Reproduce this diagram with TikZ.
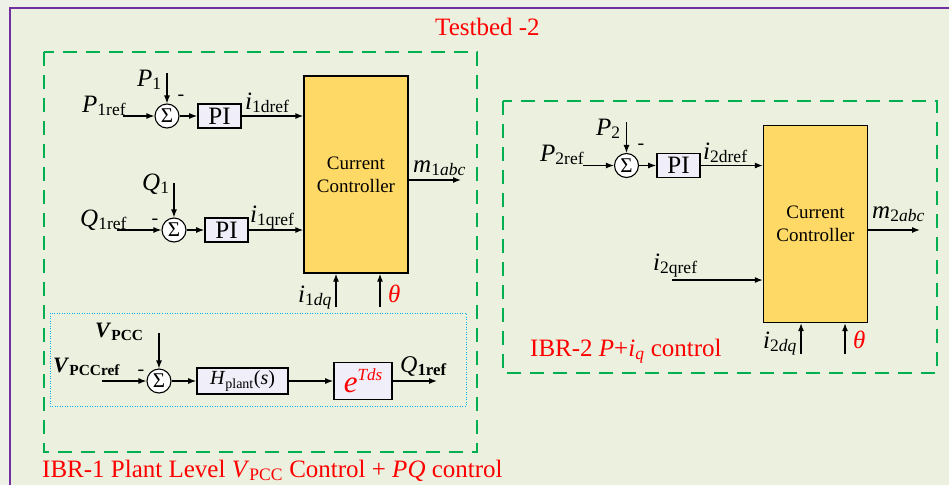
\documentclass[tikz,border=0pt]{standalone}
\usepackage{fontspec}
\setmainfont{Liberation Serif}
\usetikzlibrary{arrows.meta}

\definecolor{outfill}{HTML}{EEF1E7}
\definecolor{bgfill}{HTML}{EBF1DE}
\definecolor{framepurple}{HTML}{7030A0}
\definecolor{grpgreen}{HTML}{00B050}
\definecolor{dotblue}{HTML}{00B0F0}
\definecolor{ccfill}{HTML}{FFD966}
\definecolor{pifill}{HTML}{F0EEF8}

\newcommand{\sig}[2]{\textit{#1}\textsubscript{#2}}

\begin{document}
\begin{tikzpicture}[x=1pt, y=-1pt,
    lbl/.style={inner sep=0pt, anchor=base west, font=\fontsize{25}{28}\selectfont},
    boldlbl/.style={lbl, font=\fontsize{22}{26}\selectfont\bfseries},
    pibox/.style={draw, line width=1.6pt, fill=pifill, inner sep=0pt,
        minimum width=43pt, minimum height=24pt, font=\fontsize{25}{28}\selectfont},
    ccbox/.style={draw, line width=1.3pt, fill=ccfill, inner sep=0pt, align=center,
        minimum width=104pt, minimum height=197pt, font=\fontsize{19}{23}\selectfont},
    sumc/.style={draw, circle, line width=1.1pt, fill=white, inner sep=0pt,
        minimum size=24pt, font=\fontsize{21}{21}\selectfont},
    minus/.style={inner sep=0pt, font=\fontsize{20}{20}\selectfont},
    arr/.style={-{Latex[length=8pt,width=6pt]}, line width=1.3pt},
    grp/.style={draw=grpgreen, line width=2.2pt, dash pattern=on 14pt off 9pt}
]

\useasboundingbox (0,0) rectangle (949,485);
\fill[outfill] (0,0) rectangle (949,485);
\fill[bgfill] (10,8) rectangle (949,485);
\draw[framepurple, line width=2pt] (10,485) -- (10,8) -- (949,8);

\node[lbl, text=red] (title) at (435,35) {Testbed -2};

% IBR-1
\draw[grp] (44,52) rectangle (477,452);
\draw[dotblue, line width=0.9pt, dash pattern=on 1pt off 1.5pt] (50,313) rectangle (466,406);

\node[ccbox] (cc1) at (356,174.5) {Current\\Controller};

\node[sumc] (s1) at (167,116) {Σ};
\node[pibox] (pi1) at (219.5,116) {PI};
\node[sumc] (s2) at (174,230) {Σ};
\node[pibox] (pi2) at (226.5,230) {PI};

\node[lbl] (p1ref) at (82,112) {\sig{P}{1ref}};
\node[lbl] (p1) at (137,86) {\sig{P}{1}};
\node[minus] (m1) at (181,98) {-};
\node[lbl] (i1dref) at (245,109) {\sig{i}{1dref}};
\node[lbl] (q1) at (142,190) {\sig{Q}{1}};
\node[lbl] (q1ref) at (80,226) {\sig{Q}{1ref}};
\node[minus] (m2) at (155,222) {-};
\node[lbl] (i1qref) at (250,222) {\sig{i}{1qref}};
\node[lbl] (m1abc) at (413,172) {\textit{m}\textsubscript{1\textit{abc}}};
\node[lbl] (i1dq) at (298,302) {\textit{i}\textsubscript{1\textit{dq}}};
\node[lbl, text=red] (th1) at (388,302) {\textit{θ}};

\coordinate (p1in) at (123,116);
\coordinate (p1top) at (167,73);
\coordinate (q1in) at (117,230);
\coordinate (q1top) at (174,183);
\coordinate (m1out) at (461,180);
\coordinate (idq1) at (336,307);
\coordinate (tha) at (380,307);

\draw[arr] (p1in) -- (s1);
\draw[arr] (p1top) -- (s1);
\draw[arr] (s1) -- (pi1);
\draw[arr] (pi1) -- (pi1 -| cc1.west);
\draw[arr] (q1in) -- (s2);
\draw[arr] (q1top) -- (s2);
\draw[arr] (s2) -- (pi2);
\draw[arr] (pi2) -- (pi2 -| cc1.west);
\draw[arr] (cc1.east |- m1out) -- (m1out);
\draw[arr] (idq1) -- (idq1 |- cc1.south);
\draw[arr] (tha) -- (tha |- cc1.south);

% plant level loop
\node[sumc] (s3) at (159,381) {Σ};
\node[draw, line width=1.6pt, fill=pifill, inner sep=0pt, minimum width=91pt,
      minimum height=26pt, font=\fontsize{20}{24}\selectfont] (hp) at (242.5,381)
      {\textit{H}\textsubscript{plant}(\textit{s})};
\node[draw, line width=1.6pt, fill=pifill, inner sep=0pt, minimum width=58pt,
      minimum height=37pt, text=red, font=\fontsize{31}{34}\selectfont] (eb) at (363,381)
      {\textit{e}\raisebox{0.4em}{\fontsize{17}{17}\selectfont\textit{Tds}}};

\node[boldlbl] (vpcc) at (95,337) {\textit{V}\textsubscript{PCC}};
\node[boldlbl] (vpccref) at (53,372) {\textit{V}\textsubscript{PCCref}};
\node[minus] (m3) at (141,373) {-};
\node[lbl, font=\fontsize{24}{28}\selectfont] (q1refo) at (400,372) {\textit{Q}\textsubscript{\textbf{1ref}}};

\coordinate (vtop) at (159,333);
\coordinate (vin) at (102,381);
\coordinate (q1out) at (437,381);

\draw[arr] (vtop) -- (s3);
\draw[arr] (vin) -- (s3);
\draw[arr] (s3) -- (hp);
\draw[arr] (hp) -- (eb);
\draw[arr] (eb) -- (q1out);

\node[lbl, text=red] (ibr1) at (42,477)
    {IBR-1 Plant Level \sig{V}{PCC} Control + \textit{PQ} control};

% IBR-2
\draw[grp] (503,101) rectangle (937,373);

\node[ccbox] (cc2) at (815.5,224) {Current\\Controller};
\node[sumc] (s4) at (626.5,165.5) {Σ};
\node[pibox] (pi3) at (678.5,165.5) {PI};

\node[lbl] (p2ref) at (540,161) {\sig{P}{2ref}};
\node[lbl] (p2) at (596,135) {\sig{P}{2}};
\node[minus] (m4) at (641,147) {-};
\node[lbl] (i2dref) at (703,159) {\sig{i}{2dref}};
\node[lbl] (i2qref) at (653,270) {\sig{i}{2qref}};
\node[lbl] (m2abc) at (872,218) {\textit{m}\textsubscript{2\textit{abc}}};
\node[lbl] (i2dq) at (763,348) {\textit{i}\textsubscript{2\textit{dq}}};
\node[lbl, text=red] (th2) at (853,348) {\textit{θ}};

\coordinate (p2in) at (583,165.5);
\coordinate (p2top) at (626.5,122);
\coordinate (i2qin) at (672,280);
\coordinate (m2out) at (920,230);
\coordinate (idq2) at (801,354);
\coordinate (thb) at (845,354);

\draw[arr] (p2in) -- (s4);
\draw[arr] (p2top) -- (s4);
\draw[arr] (s4) -- (pi3);
\draw[arr] (pi3) -- (pi3 -| cc2.west);
\draw[arr] (i2qin) -- (i2qin -| cc2.west);
\draw[arr] (cc2.east |- m2out) -- (m2out);
\draw[arr] (idq2) -- (idq2 |- cc2.south);
\draw[arr] (thb) -- (thb |- cc2.south);

\node[lbl, text=red] (ibr2) at (530,356)
    {IBR-2 \textit{P}+\textit{i}\textsubscript{\textit{q}} control};

\end{tikzpicture}
\end{document}
